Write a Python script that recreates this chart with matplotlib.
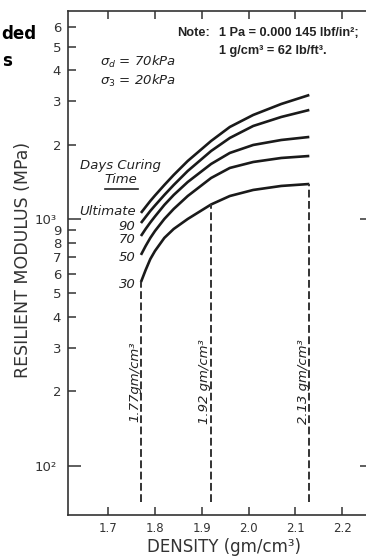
import matplotlib
matplotlib.use("Agg")
import matplotlib.pyplot as plt
from matplotlib.lines import Line2D

# curing-time curves: density (gm/cm3) vs resilient modulus (MPa)
density = [1.77, 1.78, 1.79, 1.80, 1.82, 1.84, 1.87, 1.92, 1.96, 2.01, 2.07, 2.13]
mod_ult = [1058, 1119, 1183, 1245, 1373, 1508, 1718, 2071, 2360, 2640, 2925, 3181]
mod_90 = [963, 1019, 1078, 1134, 1251, 1373, 1565, 1886, 2130, 2382, 2591, 2766]
mod_70 = [853, 911, 968, 1024, 1140, 1251, 1412, 1671, 1852, 1995, 2090, 2150]
mod_50 = [715, 777, 838, 894, 1000, 1098, 1239, 1466, 1610, 1702, 1767, 1800]
mod_30 = [555, 621, 688, 742, 838, 911, 1000, 1145, 1239, 1311, 1361, 1386]
curve_labels = ["Ultimate", "90", "70", "50", "30"]

# dashed reference densities
ref_density = [1.77, 1.92, 2.13]
ref_labels = ["1.77gm/cm³", "1.92 gm/cm³", "2.13 gm/cm³"]
ref_bottom = 71.5

xticks = [1.7, 1.8, 1.9, 2.0, 2.1, 2.2]
xticklabels = ["1.7", "1.8", "1.9", "2.0", "2.1", "2.2"]
ymajor = [100, 1000]
ymajor_labels = ["10²", "10³"]
yminor = [200, 300, 400, 500, 600, 700, 800, 900, 2000, 3000, 4000, 5000, 6000]
yminor_labels = ["2", "3", "4", "5", "6", "7", "8", "9", "2", "3", "4", "5", "6"]

W, H = 366, 558
fig = plt.figure(figsize=(W / 100, H / 100), dpi=100)
ax = fig.add_axes([68 / W, 1 - 515 / H, 304 / W, 504 / H])


def px(x, y):
    return x / W, 1 - y / H


ax.set_yscale("log")
ax.set_xlim(1.614, 2.264)
ax.set_ylim(63.1, 6966)

series = [mod_ult, mod_90, mod_70, mod_50, mod_30]
label_dy = [0.7, -2.5, -2.5, -2, -2]
for vals, lab, dy in zip(series, curve_labels, label_dy):
    ax.plot(density, vals, color="#1a1a1a", lw=1.9, solid_capstyle="butt",
            solid_joinstyle="round")
    ax.annotate(lab, xy=(density[0], vals[0]), xytext=(-4, dy),
                textcoords="offset points", ha="right", va="center",
                style="italic", fontsize=9.5, color="#222222")

for d, lab in zip(ref_density, ref_labels):
    top = mod_30[density.index(d)]
    ax.plot([d, d], [ref_bottom, top], color="#333333", lw=1.4,
            dashes=(4, 1.8))
    ax.annotate(lab, xy=(d, 219), xytext=(-4.5, 0), textcoords="offset points",
                ha="center", va="center", rotation=90, style="italic",
                fontsize=9.5, color="#222222")

ax.set_xticks(xticks)
ax.set_xticklabels(xticklabels, fontsize=8.5, color="#333333")
ax.set_yticks(ymajor)
ax.set_yticklabels(ymajor_labels, fontsize=9.5, color="#333333")
ax.set_yticks(yminor, minor=True)
ax.set_yticklabels(yminor_labels, minor=True, fontsize=9.5, color="#333333")
ax.xaxis.set_minor_locator(matplotlib.ticker.NullLocator())

ax.tick_params(axis="x", direction="in", top=True, length=6, width=1.1,
               pad=5, color="#333333")
ax.tick_params(axis="y", which="major", direction="in", right=True,
               length=9, width=1.1, pad=8, color="#333333")
ax.tick_params(axis="y", which="minor", direction="in", right=False,
               length=6, width=1.1, pad=5, color="#333333")
for s in ax.spines.values():
    s.set_linewidth(1.2)
    s.set_color("#333333")

ax.set_ylabel("RESILIENT MODULUS (MPa)", fontsize=12.5, color="#333333",
              va="center")
ax.yaxis.set_label_coords(*ax.transAxes.inverted().transform(
    fig.transFigure.transform(px(23, 260))))
ax.set_xlabel("DENSITY (gm/cm³)", fontsize=12, color="#333333", va="center")
ax.xaxis.set_label_coords(*ax.transAxes.inverted().transform(
    fig.transFigure.transform(px(224, 547))))

# annotation texts
fig.text(*px(1, 34), "ded", fontsize=12, fontweight="bold", va="center")
fig.text(*px(2, 61), "s", fontsize=12, fontweight="bold", va="center")
note_font = dict(family="Liberation Sans", fontweight="bold", fontsize=9.2,
                 va="center", color="#222222")
fig.text(*px(177, 33), "Note:", **note_font)
fig.text(*px(219, 33), "1 Pa = 0.000 145 lbf/in²;", **note_font)
fig.text(*px(219, 51), "1 g/cm³ = 62 lb/ft³.", **note_font)
fig.text(*px(100, 62), r"$\sigma_d$ = 70kPa", style="italic", fontsize=9.5,
         va="center", color="#222222")
fig.text(*px(100, 81), r"$\sigma_3$ = 20kPa", style="italic", fontsize=9.5,
         va="center", color="#222222")
fig.text(*px(120, 165), "Days Curing", style="italic", fontsize=9.5,
         ha="center", va="center", color="#222222")
fig.text(*px(121, 180), "Time", style="italic", fontsize=9.5,
         ha="center", va="center", color="#222222")
x0, y0 = px(105, 189)
x1, _ = px(138, 189)
fig.add_artist(Line2D([x0, x1], [y0, y0], transform=fig.transFigure,
                      color="#222222", lw=1.2))

fig.savefig("out.png", dpi=100)
